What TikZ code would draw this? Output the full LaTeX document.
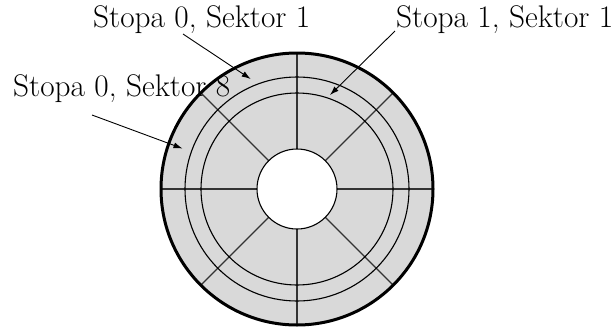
\documentclass[tikz,border=0pt]{standalone}
\usetikzlibrary{arrows.meta,calc}
\begin{document}
\begin{tikzpicture}[x=1pt,y=-1pt,
  lbl/.style={anchor=base west,inner sep=0pt,font=\fontsize{31.3}{37}\selectfont},
  ptr/.style={line width=0.9pt,-{Latex[length=9pt,width=6pt]}},
  thin/.style={line width=1.1pt}]
\useasboundingbox (0,0) rectangle (616,327);
\coordinate (C) at (297,189);
% disk
\fill[black!15] (C) circle[radius=136];
\fill[white] (C) circle[radius=40];
\foreach \a in {0,45,...,315}
  \draw[thin,black!80] ($(C)+(\a:40)$) -- ($(C)+(\a:136)$);
\draw[thin] (C) circle[radius=112];
\draw[thin] (C) circle[radius=96];
\draw[thin] (C) circle[radius=40];
\draw[line width=3pt] (C) circle[radius=136];
% labels
\node[lbl] (s01) at (93,27) {Stopa 0, Sektor 1};
\node[lbl] (s11) at (396,27) {Stopa 1, Sektor 1};
\node[lbl] (s08) at (13,96) {Stopa 0, Sektor 8};
\coordinate (f01) at (183,34);
\coordinate (f11) at (395,31);
\coordinate (f08) at (92,115);
\coordinate (t01) at (250.7,79);
\coordinate (t11) at (330,95);
\coordinate (t08) at (182.5,148.5);
\draw[ptr] (f01) -- (t01);
\draw[ptr] (f11) -- (t11);
\draw[ptr] (f08) -- (t08);
\end{tikzpicture}
\end{document}
